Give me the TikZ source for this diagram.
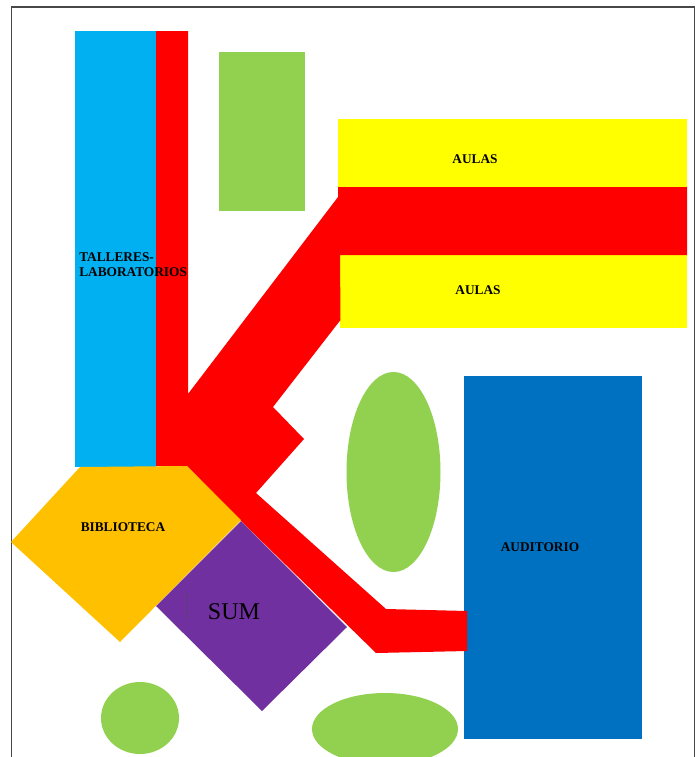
\documentclass[tikz,border=0pt]{standalone}
\usepackage{fontspec}
\setmainfont{Liberation Serif}
\definecolor{skyb}{HTML}{00B0F0}
\definecolor{deepb}{HTML}{0070C0}
\definecolor{leaf}{HTML}{92D050}
\definecolor{amber}{HTML}{FFC000}
\definecolor{plum}{HTML}{7030A0}
\definecolor{lemon}{HTML}{FFFF00}
\definecolor{scarlet}{HTML}{FF0000}
\definecolor{framec}{HTML}{484848}
\tikzset{
  roomlabel/.style={font=\bfseries\fontsize{10}{11.4}\selectfont,text=black,inner sep=0pt,align=left},
}
\begin{document}
\begin{tikzpicture}[x=0.75pt,y=-0.75pt]
\useasboundingbox (0,0) rectangle (696,757);
\clip (0,0) rectangle (696,757);
\fill[white] (0,0) rectangle (696,757);
\draw[framec,line width=1.4pt] (11.5,800) -- (11.5,7) -- (694.5,7) -- (694.5,800);
% green areas
\fill[leaf] (219,52) rectangle (305,211);
\fill[leaf] (393.5,472) ellipse [x radius=47,y radius=100];
\fill[leaf] (140,718) ellipse [x radius=39,y radius=36];
\fill[leaf] (385,729) ellipse [x radius=73,y radius=36];
% rooms
\fill[skyb] (75,31) rectangle (156,467);
\fill[lemon] (338,119) rectangle (687,188);
\fill[lemon] (340,254) rectangle (687,328);
\fill[deepb] (464,376) rectangle (642,739);
% circulation
\fill[scarlet] (156,31) -- (188,31) -- (188,394) -- (338,197) -- (338,187) -- (687,187)
  -- (687,255) -- (340,255) -- (340.5,320) -- (273,407) -- (304,439) -- (256,493)
  -- (386,609) -- (467,611) -- (467,651) -- (376,653) -- (241,521) -- (187,466) -- (156,466) -- cycle;
% library and hall
\fill[plum] (241,521) -- (347,627) -- (262,711) -- (156,606) -- cycle;
\fill[amber] (80,467) -- (187,466) -- (241,520) -- (120,642) -- (11,542) -- cycle;
\draw[black!70,line width=0.3pt,dash pattern=on 2pt off 2pt] (186.5,594) -- (186.5,618);
% labels
\node[roomlabel,anchor=west] (talleres) at (79,265) {TALLERES-\\LABORATORIOS};
\node[roomlabel] (aulasa) at (475,159) {AULAS};
\node[roomlabel] (aulasb) at (478,290) {AULAS};
\node[roomlabel] (biblio) at (123,527.5) {BIBLIOTECA};
\node[roomlabel] (audit) at (540,547) {AUDITORIO};
\node[font=\fontsize{18}{20}\selectfont,inner sep=0pt,text=black] (sum) at (234,611.5) {SUM};
\end{tikzpicture}
\end{document}
